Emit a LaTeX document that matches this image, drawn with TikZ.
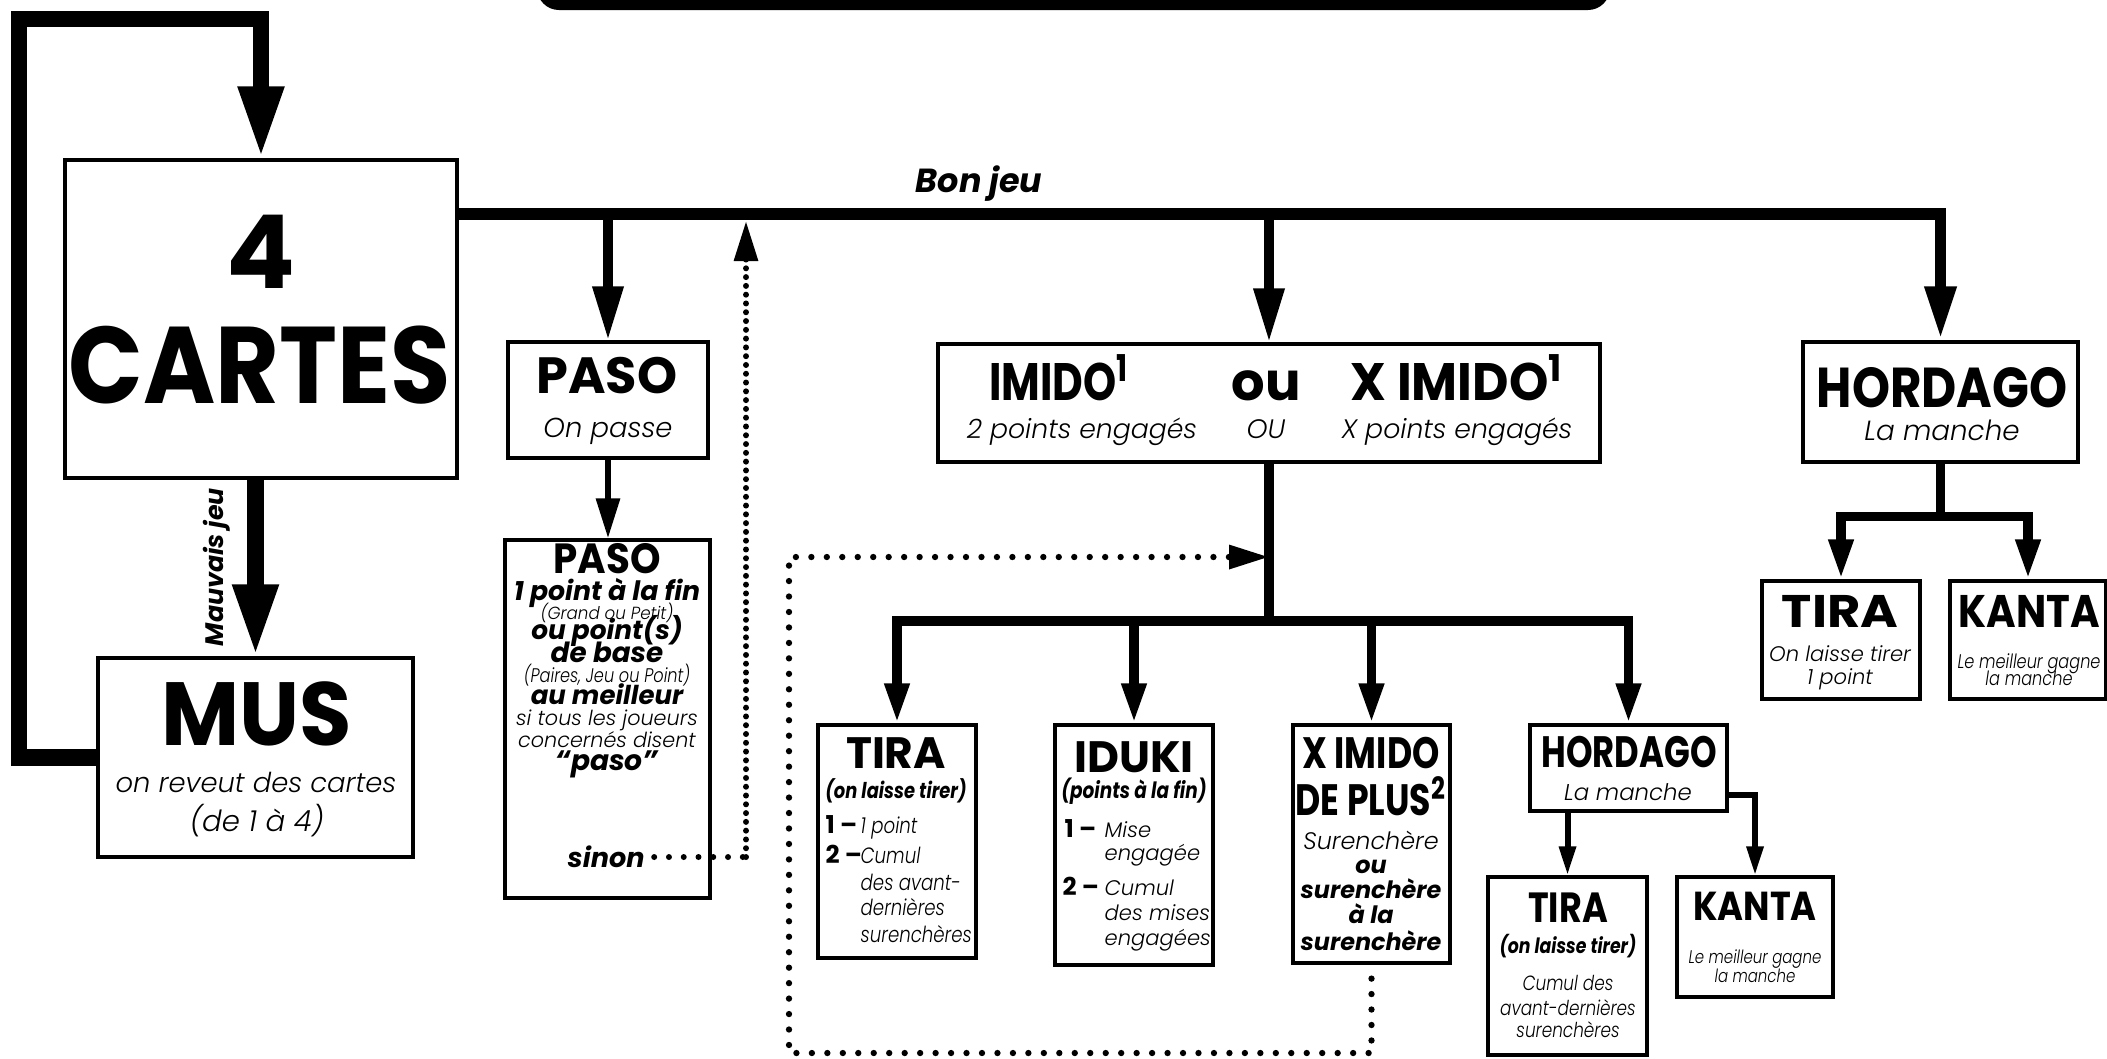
\documentclass[tikz,border=0pt]{standalone}
\usepackage{fontspec}
\setmainfont{Poppins}
\newfontfamily\legere{Poppins Light Italic}
\usepackage{graphicx}
\usetikzlibrary{arrows.meta, calc, positioning}

\newcommand{\titre}[1]{\fontsize{#1}{#1}\selectfont\bfseries}
\newcommand{\mince}[1]{\fontsize{#1}{#1}\selectfont\legere}
\newcommand{\grasit}[1]{\fontsize{#1}{#1}\selectfont\bfseries\itshape}
\newcommand{\serre}[2][0.82]{\scalebox{#1}[1]{#2}}

\tikzset{
  boite/.style={draw, line width=0.9pt, inner sep=0pt, fill=white},
  ligne/.style={anchor=base, inner sep=0pt},
  lourd/.style={line width=4.6pt},
  bus/.style={line width=3.4pt},
  moyen/.style={line width=2.7pt},
  mince trait/.style={line width=1.7pt},
  grande/.style={-{Triangle[length=0.72cm,width=0.42cm]}},
  pointe/.style={-{Triangle[length=0.54cm,width=0.29cm]}},
  petite/.style={-{Triangle[length=0.40cm,width=0.23cm]}},
  mini/.style={-{Triangle[length=0.29cm,width=0.16cm]}},
  pointille/.style={line cap=round, line width=1.7pt, dash pattern=on 0pt off #1},
  pointille/.default=4.4pt
}

\begin{document}
\begin{tikzpicture}[x=1cm,y=1cm]
  \useasboundingbox (0,0) rectangle (21.07,-10.58);
  \clip (0,0) rectangle (21.07,-10.58);

  % --- bandeau du haut ---
  \fill[rounded corners=0.22cm] (5.37,0.5) rectangle (16.1,-0.10);

  % --- boites ---
  \node[boite, minimum width=3.92cm, minimum height=3.18cm] (cartes) at (2.61,-3.19) {};
  \node[boite, minimum width=3.15cm, minimum height=1.99cm] (mus) at (2.555,-7.575) {};
  \node[boite, minimum width=2.00cm, minimum height=1.16cm] (paso1) at (6.08,-4.00) {};
  \node[boite, minimum width=2.05cm, minimum height=3.58cm] (paso2) at (6.075,-7.19) {};
  \node[boite, minimum width=6.62cm, minimum height=1.18cm] (imido) at (12.69,-4.03) {};
  \node[boite, minimum width=2.75cm, minimum height=1.20cm] (hord1) at (19.405,-4.02) {};
  \node[boite, minimum width=1.58cm, minimum height=1.18cm] (tira2) at (18.41,-6.40) {};
  \node[boite, minimum width=1.56cm, minimum height=1.18cm] (kanta1) at (20.28,-6.40) {};
  \node[boite, minimum width=1.58cm, minimum height=2.33cm] (tira1) at (8.97,-8.415) {};
  \node[boite, minimum width=1.58cm, minimum height=2.40cm] (iduki) at (11.34,-8.45) {};
  \node[boite, minimum width=1.57cm, minimum height=2.38cm] (ximido) at (13.715,-8.44) {};
  \node[boite, minimum width=1.97cm, minimum height=0.86cm] (hord2) at (16.285,-7.68) {};
  \node[boite, minimum width=1.59cm, minimum height=1.78cm] (tira3) at (15.675,-9.66) {};
  \node[boite, minimum width=1.56cm, minimum height=1.20cm] (kanta2) at (17.55,-9.37) {};

  % --- textes ---
  \node[ligne] (cartes-4) at (2.61,-2.88) {\titre{29}4};
  \node[ligne] (cartes-t) at (2.60,-4.03) {\titre{31}\serre[0.9]{CARTES}};
  \node[ligne] (mus-t) at (2.57,-7.45) {\titre{25.5}\serre[0.95]{MUS}};
  \node[ligne] (mus-a) at (2.56,-7.92) {\mince{7.8}on reveut des cartes};
  \node[ligne] (mus-b) at (2.57,-8.31) {\mince{8.3}(de 1 à 4)};
  \node[rotate=90, inner sep=0pt] (mauvais) at (2.17,-5.67) {\grasit{7.2}Mauvais jeu};
  \node[ligne] (bonjeu) at (9.79,-1.92) {\grasit{9.5}Bon jeu};

  \node[ligne] (paso1-t) at (6.07,-3.93) {\titre{14.5}PASO};
  \node[ligne] (paso1-d) at (6.08,-4.37) {\mince{7.8}On passe};

  \foreach \y/\txt [count=\i] in {5.73/{\titre{12}\serre[0.92]{PASO}},
      6.00/{\grasit{7.6}1 point à la fin},
      6.19/{\mince{5}\serre[0.95]{(Grand ou Petit)}},
      6.39/{\grasit{7.5}ou point(s)},
      6.62/{\grasit{7.9}de base},
      6.82/{\mince{5.6}\serre{(Paires, Jeu ou Point)}},
      7.04/{\grasit{7.4}au meilleur},
      7.25/{\mince{5.9}si tous les joueurs},
      7.47/{\mince{5.9}concernés disent},
      7.70/{\grasit{8}“paso”}}
    \node[ligne] (paso2-\i) at (6.07,-\y) {\txt};
  \node[ligne, anchor=base west] (sinon) at (5.67,-8.67) {\grasit{7.7}sinon};

  \node[ligne] (imido-a) at (10.59,-4.00) {\titre{15}\serre[0.8]{IMIDO\textsuperscript{1}}};
  \node[ligne] (imido-ou) at (12.66,-4.00) {\titre{15}ou};
  \node[ligne] (imido-b) at (14.57,-4.00) {\titre{15}\serre[0.95]{X IMIDO\textsuperscript{1}}};
  \node[ligne] (imido-c) at (10.82,-4.38) {\mince{7.6}2 points engagés};
  \node[ligne] (imido-d) at (12.66,-4.38) {\mince{7.6}OU};
  \node[ligne] (imido-e) at (14.57,-4.38) {\mince{7.6}X points engagés};

  \node[ligne] (hord1-t) at (19.42,-4.07) {\titre{16}\serre[0.86]{HORDAGO}};
  \node[ligne] (hord1-d) at (19.42,-4.40) {\mince{7.9}La manche};

  \node[ligne] (tira2-t) at (18.40,-6.27) {\titre{13}\serre[1.12]{TIRA}};
  \node[ligne] (tira2-a) at (18.40,-6.61) {\mince{6}On laisse tirer};
  \node[ligne] (tira2-b) at (18.40,-6.84) {\mince{6}1 point};
  \node[ligne] (kanta1-t) at (20.29,-6.27) {\titre{13}\serre[0.88]{KANTA}};
  \node[ligne] (kanta1-a) at (20.29,-6.68) {\mince{5.6}\serre{Le meilleur gagne}};
  \node[ligne] (kanta1-b) at (20.29,-6.85) {\mince{5.6}\serre{la manche}};

  % TIRA sous IMIDO
  \node[ligne] (tira1-t) at (8.96,-7.68) {\titre{12.5}TIRA};
  \node[ligne] (tira1-p) at (8.96,-7.98) {\grasit{6.2}\serre{(on laisse tirer)}};
  \node[ligne, anchor=base west] (tira1-n1) at (8.25,-8.33) {\titre{7}1 –};
  \node[ligne, anchor=base west] (tira1-n2) at (8.25,-8.63) {\titre{7}2 –};
  \foreach \y/\txt [count=\i] in {8.33/1 point, 8.63/Cumul, 8.90/des avant-,
      9.15/dernières, 9.42/surenchères}
    \node[ligne, anchor=base west] (tira1-\i) at (8.60,-\y) {\mince{6.3}\serre{\txt}};

  % IDUKI
  \node[ligne] (iduki-t) at (11.34,-7.72) {\titre{12.5}IDUKI};
  \node[ligne] (iduki-p) at (11.34,-7.98) {\grasit{6.4}\serre{(points à la fin)}};
  \node[ligne, anchor=base west] (iduki-n1) at (10.64,-8.37) {\titre{7}1 –};
  \node[ligne, anchor=base west] (iduki-n2) at (10.62,-8.95) {\titre{7}2 –};
  \foreach \y/\txt [count=\i] in {8.37/Mise, 8.60/engagée, 8.95/Cumul,
      9.20/des mises, 9.45/engagées}
    \node[ligne, anchor=base west] (iduki-\i) at (11.04,-\y) {\mince{6}\txt};

  % X IMIDO DE PLUS
  \node[ligne] (ximido-t) at (13.71,-7.68) {\titre{12.5}\serre[0.79]{X IMIDO}};
  \node[ligne] (ximido-u) at (13.71,-8.15) {\titre{12.5}\serre[0.79]{DE PLUS\textsuperscript{2}}};
  \node[ligne] (ximido-a) at (13.71,-8.49) {\mince{6.8}Surenchère};
  \foreach \y/\txt [count=\i] in {8.73/ou, 8.98/surenchère, 9.23/à la, 9.50/surenchère}
    \node[ligne] (ximido-\i) at (13.71,-\y) {\grasit{6.8}\txt};

  % HORDAGO sous IMIDO
  \node[ligne] (hord2-t) at (16.29,-7.67) {\titre{12.5}\serre[0.77]{HORDAGO}};
  \node[ligne] (hord2-d) at (16.28,-8.00) {\mince{6.5}La manche};
  \node[ligne] (tira3-t) at (15.68,-9.22) {\titre{12}\serre[0.83]{TIRA}};
  \node[ligne] (tira3-p) at (15.68,-9.53) {\grasit{6}\serre{(on laisse tirer)}};
  \foreach \y/\txt [count=\i] in {9.90/Cumul des, 10.15/avant-dernières, 10.37/surenchères}
    \node[ligne] (tira3-\i) at (15.68,-\y) {\mince{5.85}\serre{\txt}};
  \node[ligne] (kanta2-t) at (17.55,-9.20) {\titre{11.5}\serre[0.87]{KANTA}};
  \node[ligne] (kanta2-a) at (17.55,-9.63) {\mince{5.2}\serre{Le meilleur gagne}};
  \node[ligne] (kanta2-b) at (17.55,-9.82) {\mince{5.2}\serre{la manche}};

  % --- points de passage ---
  \coordinate (bus) at (0,-2.14);
  \coordinate (coin) at (0.19,-0.19);
  \coordinate (retour) at (7.46,-2.21);
  \coordinate (embranch) at (0,-6.21);
  \coordinate (h1bus) at ($(hord1.south)+(0,-0.53)$);
  \coordinate (h2sortie) at ($(hord2.south east)+(0,0.18)$);
  \coordinate (bas) at (7.89,-10.53);
  \coordinate (haut) at (7.89,-5.57);
  \coordinate (sinon-out) at ($(sinon.base east)+(0.09,0.1)$);

  % --- boucle MUS -> 4 cartes ---
  \draw[lourd, grande] (mus.west) -| (coin) -| (cartes.north);
  \draw[lourd, grande] (cartes.south -| mus.north) -- (mus.north);

  % --- bon jeu ---
  \draw[bus, pointe] (cartes.east |- bus) -| (hord1.north);
  \draw[moyen, pointe] (paso1.north |- bus) -- (paso1.north);
  \draw[moyen, pointe] (imido.north |- bus) -- (imido.north);
  \draw[mince trait, petite] (paso1.south) -- (paso1.south |- paso2.north);

  % --- imido ---
  \draw[moyen] (imido.south) -- (imido.south |- embranch);
  \draw[moyen, petite] (imido.south |- embranch) -| (tira1.north);
  \draw[moyen, petite] (imido.south |- embranch) -| (hord2.north);
  \draw[moyen, petite] (iduki.north |- embranch) -- (iduki.north);
  \draw[moyen, petite] (ximido.north |- embranch) -- (ximido.north);

  % --- hordago ---
  \draw[moyen] (hord1.south) -- (h1bus);
  \draw[moyen, petite] (h1bus) -| (tira2.north);
  \draw[moyen, petite] (h1bus) -| (kanta1.north);
  \draw[mince trait, mini] (hord2.south -| tira3.north) -- (tira3.north);
  \draw[mince trait, mini] (h2sortie) -| (kanta2.north);

  % --- pointilles ---
  \draw[pointille=4.2pt] (sinon-out) -- (sinon-out -| retour);
  \draw[pointille=2.5pt, petite] (sinon-out -| retour) -- (retour);
  \draw[pointille, line width=1.8pt, petite, shorten <=0.14cm]
    (ximido.south) |- (bas) -- (haut) -- (haut -| imido.south);
\end{tikzpicture}
\end{document}
